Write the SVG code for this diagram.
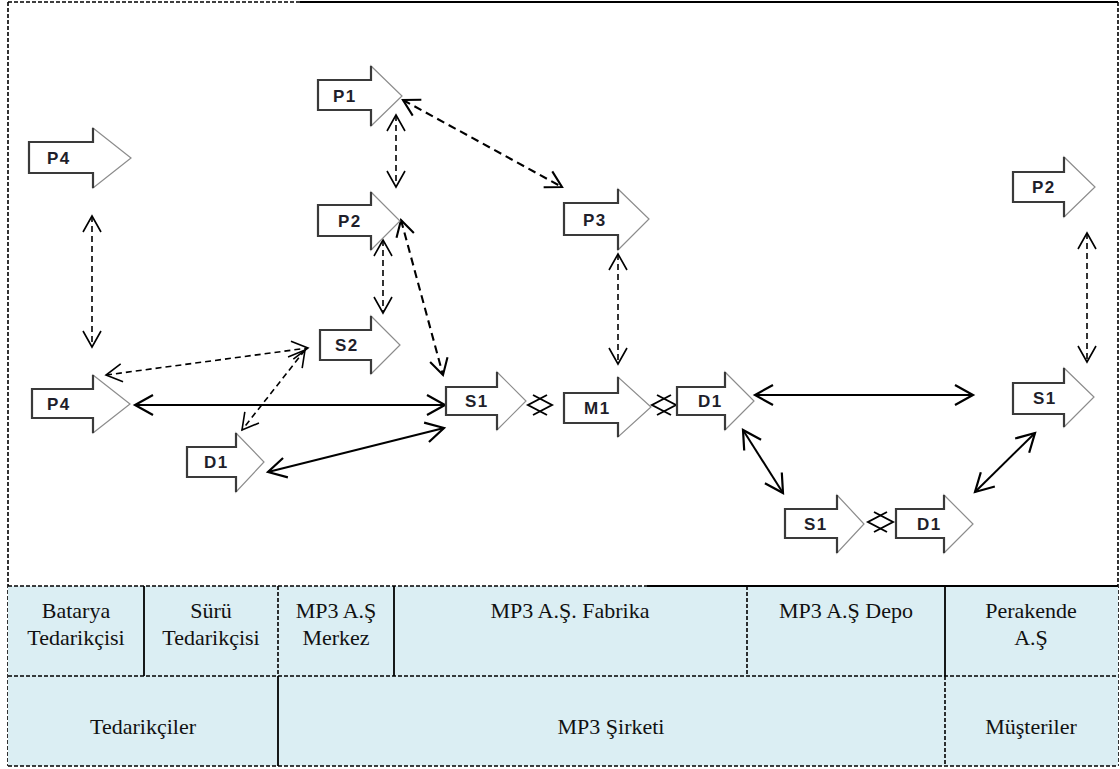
<svg xmlns="http://www.w3.org/2000/svg" width="1120" height="769" viewBox="0 0 1120 769">
  <style>
    .body { fill: #ffffff; stroke: #8c8c8c; stroke-width: 1.2; stroke-linejoin: miter; }
    .edge { fill: none; stroke: #3a3a3a; stroke-width: 2.2; }
    .lbl { font-family: "Liberation Sans", Arial, sans-serif; font-weight: bold; font-size: 17px; letter-spacing: 1.5px; fill: #1e1e2a; }
    .dash { fill: none; stroke: #000; stroke-width: 1.6; stroke-dasharray: 6 4; marker-start: url(#openHead); marker-end: url(#openHead); }
    .dashB { fill: none; stroke: #000; stroke-width: 2.1; stroke-dasharray: 8 5; marker-start: url(#openHeadB); marker-end: url(#openHeadB); }
    .solid { fill: none; stroke: #000; stroke-width: 2; marker-start: url(#solidHead); marker-end: url(#solidHead); }
    .tiny { fill: none; stroke: none; marker-start: url(#tinyHead); marker-end: url(#tinyHead); }
    .cell { fill: #dbeef3; stroke: none; }
    .rule { stroke: #000; stroke-width: 1.6; stroke-dasharray: 4 2; fill: none; }
    .ruleS { stroke: #000; stroke-width: 1.8; fill: none; }
    .txt { font-family: "Liberation Serif", "Times New Roman", serif; font-size: 22px; fill: #111; text-anchor: middle; }
  </style>
  <defs>
    <marker id="openHead" markerUnits="userSpaceOnUse" orient="auto-start-reverse" refX="0" refY="0" markerWidth="20" markerHeight="24" overflow="visible">
      <path d="M-16,-9 L0,0 L-16,9" fill="none" stroke="#000" stroke-width="1.6" stroke-dasharray="none"/>
    </marker>
    <marker id="openHeadB" markerUnits="userSpaceOnUse" orient="auto-start-reverse" refX="0" refY="0" markerWidth="20" markerHeight="24" overflow="visible">
      <path d="M-16,-9 L0,0 L-16,9" fill="none" stroke="#000" stroke-width="2.1" stroke-dasharray="none"/>
    </marker>
    <marker id="solidHead" markerUnits="userSpaceOnUse" orient="auto-start-reverse" refX="0" refY="0" markerWidth="20" markerHeight="24" overflow="visible">
      <path d="M-18,-10 L0,0 L-18,10" fill="none" stroke="#000" stroke-width="2.2"/>
    </marker>
    <marker id="tinyHead" markerUnits="userSpaceOnUse" orient="auto-start-reverse" refX="0" refY="0" markerWidth="24" markerHeight="24" overflow="visible">
      <path d="M-19,-10 L0,0 L-19,10" fill="none" stroke="#000" stroke-width="1.9"/>
    </marker>
  </defs>

  <rect x="0" y="0" width="1120" height="769" fill="#ffffff"/>

  <!-- frame -->
  <g id="frame">
    <line x1="8" y1="2" x2="300" y2="2" class="rule" stroke-width="2.6"/>
    <line x1="300" y1="2" x2="1118" y2="2" class="ruleS" stroke-width="2.6"/>
    <line x1="8" y1="2" x2="8" y2="766" class="rule" stroke-width="3" stroke-dasharray="3 1.5"/>
    <line x1="1118" y1="2" x2="1118" y2="766" class="rule" stroke-width="2.2" stroke-dasharray="2 2"/>
  </g>

  <!-- lane table -->
  <g id="table">
    <rect x="8" y="586" width="1110" height="180" class="cell"/>
    <line x1="8" y1="586" x2="647" y2="586" class="rule"/>
    <line x1="647" y1="586" x2="1118" y2="586" class="ruleS"/>
    <line x1="8" y1="676" x2="1118" y2="676" class="rule"/>
    <line x1="8" y1="766" x2="1118" y2="766" class="rule"/>
    <line x1="144" y1="586" x2="144" y2="676" class="ruleS"/>
    <line x1="278" y1="586" x2="278" y2="676" class="rule"/>
    <line x1="394" y1="586" x2="394" y2="676" class="ruleS"/>
    <line x1="747" y1="586" x2="747" y2="676" class="rule"/>
    <line x1="945" y1="586" x2="945" y2="676" class="ruleS"/>
    <line x1="278" y1="676" x2="278" y2="766" class="ruleS"/>
    <line x1="945" y1="676" x2="945" y2="766" class="rule"/>

    <text class="txt" x="76" y="618">Batarya</text>
    <text class="txt" x="76" y="645">Tedarikçisi</text>
    <text class="txt" x="211" y="618">Sürü</text>
    <text class="txt" x="211" y="645">Tedarikçisi</text>
    <text class="txt" x="336" y="618">MP3 A.Ş</text>
    <text class="txt" x="336" y="645">Merkez</text>
    <text class="txt" x="570" y="618">MP3 A.Ş. Fabrika</text>
    <text class="txt" x="846" y="618">MP3 A.Ş Depo</text>
    <text class="txt" x="1031" y="618">Perakende</text>
    <text class="txt" x="1031" y="645">A.Ş</text>
    <text class="txt" x="143" y="734">Tedarikçiler</text>
    <text class="txt" x="611" y="734">MP3 Şirketi</text>
    <text class="txt" x="1031" y="734">Müşteriler</text>
  </g>

  <!-- connectors -->
  <g id="connectors">
    <line class="dash" x1="92" y1="216" x2="92" y2="347"/>
    <line class="dash" x1="396" y1="115" x2="396" y2="187"/>
    <line class="dash" x1="383" y1="240" x2="383" y2="313"/>
    <line class="dash" x1="618" y1="254" x2="618" y2="364"/>
    <line class="dash" x1="106" y1="375" x2="308" y2="348"/>
    <line class="dash" x1="305" y1="350" x2="242" y2="430"/>
    <line class="dash" x1="1087" y1="233" x2="1087" y2="362"/>
    <line class="dashB" x1="403" y1="100" x2="562" y2="187"/>
    <line class="dashB" x1="401" y1="220" x2="443" y2="375"/>
    <line class="solid" x1="135" y1="405" x2="445" y2="405"/>
    <line class="solid" x1="268" y1="472" x2="444" y2="428"/>
    <line class="solid" x1="755" y1="395" x2="973" y2="395"/>
    <line class="solid" x1="743" y1="430" x2="783" y2="493"/>
    <line class="solid" x1="975" y1="492" x2="1035" y2="433"/>
    <line class="tiny" x1="528" y1="405" x2="552" y2="405"/>
    <line class="tiny" x1="652" y1="405" x2="676" y2="405"/>
    <line class="tiny" x1="868" y1="522" x2="893" y2="522"/>
  </g>

  <!-- process nodes -->
  <g id="n-p4-top">
    <polygon class="body" points="29,142 93,142 93,128 131,158 93,188 93,173 29,173"/>
    <polyline class="edge" points="93,128 93,142 29,142 29,173 93,173 93,188"/>
    <text class="lbl" x="47" y="164">P4</text>
  </g>
  <g id="n-p1">
    <polygon class="body" points="318,80 371,80 371,66 402,96 371,126 371,110 318,110"/>
    <polyline class="edge" points="371,66 371,80 318,80 318,110 371,110 371,126"/>
    <text class="lbl" x="333" y="102">P1</text>
  </g>
  <g id="n-p2-left">
    <polygon class="body" points="318,205 371,205 371,192 400,221 371,250 371,236 318,236"/>
    <polyline class="edge" points="371,192 371,205 318,205 318,236 371,236 371,250"/>
    <text class="lbl" x="338" y="227">P2</text>
  </g>
  <g id="n-s2">
    <polygon class="body" points="320,330 371,330 371,316 400,345 371,374 371,360 320,360"/>
    <polyline class="edge" points="371,316 371,330 320,330 320,360 371,360 371,374"/>
    <text class="lbl" x="335" y="351">S2</text>
  </g>
  <g id="n-p3">
    <polygon class="body" points="564,203 618,203 618,189 649,219 618,250 618,235 564,235"/>
    <polyline class="edge" points="618,189 618,203 564,203 564,235 618,235 618,250"/>
    <text class="lbl" x="583" y="226">P3</text>
  </g>
  <g id="n-s1-center">
    <polygon class="body" points="446,387 497,387 497,372 526,401 497,430 497,415 446,415"/>
    <polyline class="edge" points="497,372 497,387 446,387 446,415 497,415 497,430"/>
    <text class="lbl" x="465" y="407">S1</text>
  </g>
  <g id="n-m1">
    <polygon class="body" points="564,393 618,393 618,377 651,407 618,437 618,423 564,423"/>
    <polyline class="edge" points="618,377 618,393 564,393 564,423 618,423 618,437"/>
    <text class="lbl" x="584" y="414">M1</text>
  </g>
  <g id="n-d1-center">
    <polygon class="body" points="677,387 725,387 725,372 754,401 725,430 725,415 677,415"/>
    <polyline class="edge" points="725,372 725,387 677,387 677,415 725,415 725,430"/>
    <text class="lbl" x="698" y="407">D1</text>
  </g>
  <g id="n-p4-low">
    <polygon class="body" points="32,389 93,389 93,375 130,404 93,433 93,418 32,418"/>
    <polyline class="edge" points="93,375 93,389 32,389 32,418 93,418 93,433"/>
    <text class="lbl" x="47" y="410">P4</text>
  </g>
  <g id="n-d1-left">
    <polygon class="body" points="187,447 236,447 236,433 264,462 236,492 236,477 187,477"/>
    <polyline class="edge" points="236,433 236,447 187,447 187,477 236,477 236,492"/>
    <text class="lbl" x="204" y="468">D1</text>
  </g>
  <g id="n-p2-right">
    <polygon class="body" points="1013,172 1064,172 1064,157 1095,187 1064,217 1064,202 1013,202"/>
    <polyline class="edge" points="1064,157 1064,172 1013,172 1013,202 1064,202 1064,217"/>
    <text class="lbl" x="1032" y="193">P2</text>
  </g>
  <g id="n-s1-right">
    <polygon class="body" points="1013,383 1064,383 1064,368 1094,397 1064,427 1064,414 1013,414"/>
    <polyline class="edge" points="1064,368 1064,383 1013,383 1013,414 1064,414 1064,427"/>
    <text class="lbl" x="1033" y="404">S1</text>
  </g>
  <g id="n-s1-low">
    <polygon class="body" points="785,509 837,509 837,495 864,524 837,553 837,538 785,538"/>
    <polyline class="edge" points="837,495 837,509 785,509 785,538 837,538 837,553"/>
    <text class="lbl" x="804" y="530">S1</text>
  </g>
  <g id="n-d1-low">
    <polygon class="body" points="896,509 944,509 944,495 973,524 944,553 944,538 896,538"/>
    <polyline class="edge" points="944,495 944,509 896,509 896,538 944,538 944,553"/>
    <text class="lbl" x="917" y="530">D1</text>
  </g>
</svg>
